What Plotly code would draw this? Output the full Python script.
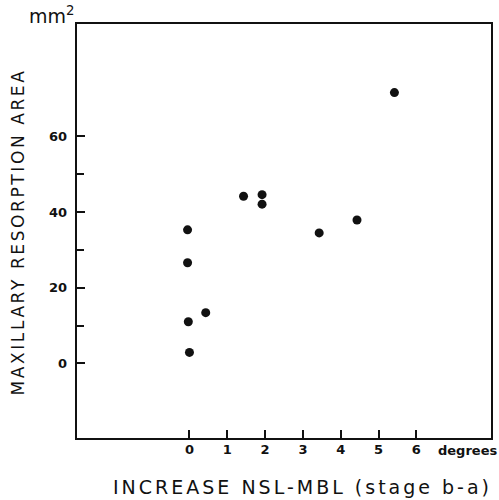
import plotly.graph_objects as go

# Change in NSL-MBL angle (degrees) vs. maxillary resorption area (mm^2)
increase_deg = [-0.05, -0.05, -0.03, 0.0, 0.43, 1.43, 1.92, 1.92, 3.43, 4.43, 5.42]
resorption_mm2 = [35.3, 26.6, 11.0, 2.9, 13.4, 44.2, 44.6, 42.1, 34.5, 37.9, 71.6]

x_tick_vals = [0, 1, 2, 3, 4, 5, 6]
x_tick_text = ["0", "1", "2", "3", "4", "5", "6"]
y_tick_vals = [0, 20, 40, 60]
y_tick_text = ["0", "20", "40", "60"]
y_minor_vals = [10, 30, 50]

INK = "#111111"
TITLE_FONT = "DejaVu Sans"

fig = go.Figure(
    go.Scatter(
        x=increase_deg,
        y=resorption_mm2,
        mode="markers",
        marker=dict(size=9, color=INK, line=dict(width=0)),
        showlegend=False,
    )
)

axis_common = dict(
    showgrid=False,
    zeroline=False,
    showline=False,
    ticks="inside",
    tickcolor=INK,
    tickwidth=1.5,
    ticklen=9,
    tickfont=dict(family=TITLE_FONT, size=13, color=INK, weight="bold"),
)

fig.update_xaxes(
    range=[-3, 8],
    tickvals=x_tick_vals,
    ticktext=x_tick_text,
    ticklabelstandoff=1,
    **axis_common,
)
fig.update_yaxes(
    range=[-20, 90],
    tickvals=y_tick_vals,
    ticktext=y_tick_text,
    ticklabelstandoff=8,
    minor=dict(tickvals=y_minor_vals, ticks="inside", ticklen=8,
               tickwidth=1.5, tickcolor=INK, showgrid=False),
    **axis_common,
)

# Plot frame
fig.add_shape(type="rect", xref="paper", yref="paper", x0=0, y0=0, x1=1, y1=1,
              line=dict(color=INK, width=2), layer="above")

W, H = 499, 500
L, R, T, B = 76, 7, 23, 61
pw, ph = W - L - R, H - T - B


def px_to_paper(px, py):
    return (px - L) / pw, (H - B - py) / ph


ytx, yty = px_to_paper(18, 232)
xtx, xty = px_to_paper(302, 487)

annotations = [
    dict(text="mm<sup>2</sup>", x=0, y=1, xref="paper", yref="paper",
         xanchor="right", yanchor="bottom", showarrow=False, xshift=1, yshift=-6,
         font=dict(family=TITLE_FONT, size=19, color=INK)),
    dict(text="degrees", x=1, y=0, xref="paper", yref="paper",
         xanchor="right", yanchor="top", showarrow=False, xshift=7, yshift=-2,
         font=dict(family=TITLE_FONT, size=13, color=INK, weight="bold")),
    dict(text="MAXILLARY RESORPTION AREA", x=ytx, y=yty, xref="paper", yref="paper",
         xanchor="center", yanchor="middle", showarrow=False, textangle=-90,
         font=dict(family=TITLE_FONT, size=17, color=INK)),
    dict(text="INCREASE NSL-MBL (stage b-a)", x=xtx, y=xty, xref="paper", yref="paper",
         xanchor="center", yanchor="middle", showarrow=False,
         font=dict(family=TITLE_FONT, size=19, color=INK)),
]

fig.update_layout(
    width=W,
    height=H,
    margin=dict(l=L, r=R, t=T, b=B),
    paper_bgcolor="white",
    plot_bgcolor="white",
    annotations=annotations,
)

# Widen the letter spacing of the two axis titles
spacing_js = """
var gd = document.getElementById('{plot_id}');
var spacing = {'MAXILLARY RESORPTION AREA': '2.6px', 'INCREASE NSL-MBL (stage b-a)': '3.0px'};
gd.querySelectorAll('text.annotation-text').forEach(function (t) {
    var s = spacing[t.textContent];
    if (s) { t.style.letterSpacing = s; }
});
"""

fig.write_html("out.html", post_script=spacing_js)
